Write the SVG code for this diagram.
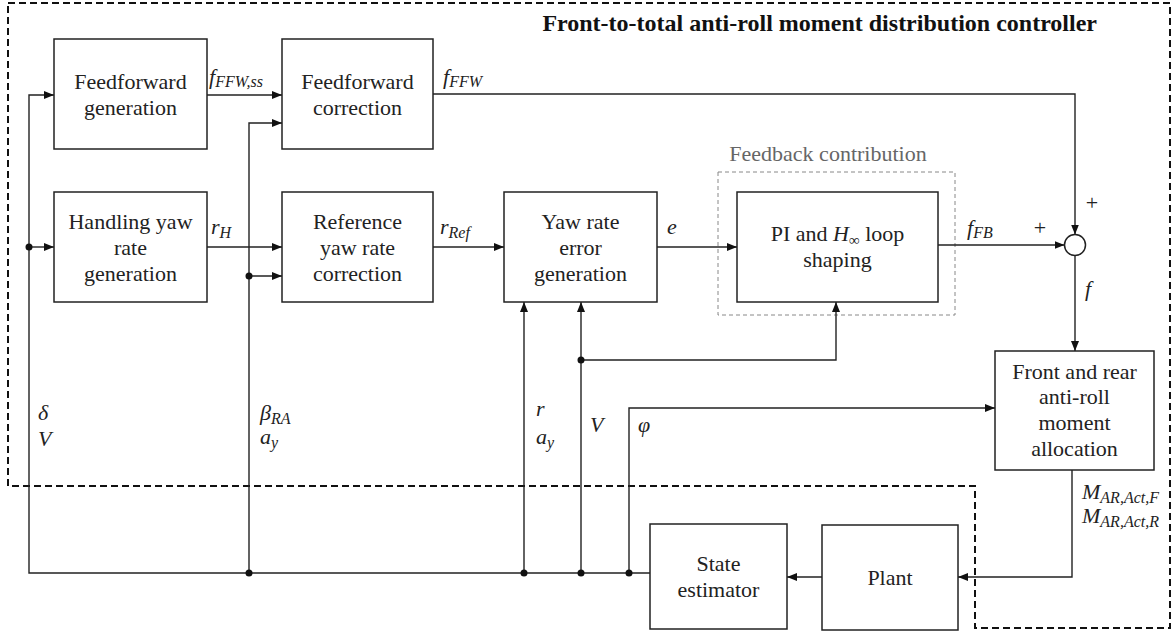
<svg xmlns="http://www.w3.org/2000/svg" width="1172" height="634" viewBox="0 0 1172 634">
<style>
.box{fill:#fff;stroke:#222;stroke-width:1.5}
.t{font-family:"Liberation Serif",serif;font-size:22px;fill:#222;text-anchor:middle}
.m{font-family:"Liberation Serif",serif;font-style:italic;font-size:22px;fill:#222}
.s{font-size:16px}
.c{fill:none;stroke:#222;stroke-width:1.4}
.dot{fill:#111}
</style>
<defs>
<marker id="arr" viewBox="0 0 10 8" refX="10" refY="4" markerWidth="10" markerHeight="8" markerUnits="userSpaceOnUse" orient="auto"><path d="M0,0 L10,4 L0,8 z" fill="#111"/></marker>
</defs>
<rect width="1172" height="634" fill="#fff"/>
<g id="controller-boundary">
<path d="M8,3 H1170 V628 H975 V486 H8 Z" fill="none" stroke="#111" stroke-width="2" stroke-dasharray="7,4"/>
<text x="1097" y="31" font-family="Liberation Serif,serif" font-weight="bold" font-size="24" text-anchor="end" fill="#111">Front-to-total anti-roll moment distribution controller</text>
</g>
<g id="feedback-contribution">
<rect x="718" y="172" width="237" height="143" fill="none" stroke="#888" stroke-width="1" stroke-dasharray="4,3"/>
<text x="828" y="161" class="t" style="fill:#666">Feedback contribution</text>
</g>
<g id="connectors">
<path class="c" d="M650,573 H29 V95 H54" marker-end="url(#arr)"/>
<path class="c" d="M29,247 H54" marker-end="url(#arr)"/>
<path class="c" d="M207,95 H282" marker-end="url(#arr)"/>
<path class="c" d="M249,573 V123 H282" marker-end="url(#arr)"/>
<path class="c" d="M249,276 H282" marker-end="url(#arr)"/>
<path class="c" d="M207,247 H282" marker-end="url(#arr)"/>
<path class="c" d="M433,247 H504" marker-end="url(#arr)"/>
<path class="c" d="M657,247 H737" marker-end="url(#arr)"/>
<path class="c" d="M433,94 H1075 V234.5" marker-end="url(#arr)"/>
<path class="c" d="M938,245 H1064.5" marker-end="url(#arr)"/>
<path class="c" d="M1075,255.5 V351" marker-end="url(#arr)"/>
<path class="c" d="M524,573 V302" marker-end="url(#arr)"/>
<path class="c" d="M581,573 V302" marker-end="url(#arr)"/>
<path class="c" d="M581,360 H836 V302" marker-end="url(#arr)"/>
<path class="c" d="M629,573 V408 H995" marker-end="url(#arr)"/>
<path class="c" d="M1072,470 V577 H958" marker-end="url(#arr)"/>
<path class="c" d="M822,577 H787" marker-end="url(#arr)"/>
<circle class="dot" cx="29" cy="247" r="3.5"/>
<circle class="dot" cx="249" cy="276" r="3.5"/>
<circle class="dot" cx="249" cy="573" r="3.5"/>
<circle class="dot" cx="524" cy="573" r="3.5"/>
<circle class="dot" cx="581" cy="573" r="3.5"/>
<circle class="dot" cx="629" cy="573" r="3.5"/>
<circle class="dot" cx="581" cy="360" r="3.5"/>
<text class="m" x="209" y="84">f<tspan class="s" dy="3">FFW,ss</tspan></text>
<text class="m" x="443" y="84">f<tspan class="s" dy="3">FFW</tspan></text>
<text class="m" x="211" y="234">r<tspan class="s" dy="4">H</tspan></text>
<text class="m" x="440" y="234">r<tspan class="s" dy="4">Ref</tspan></text>
<text class="m" x="667" y="234">e</text>
<text class="m" x="967" y="235">f<tspan class="s" dy="3">FB</tspan></text>
<text class="t" x="1040" y="235">+</text>
<text class="t" x="1092" y="210">+</text>
<text class="m" x="1085" y="296">f</text>
<text class="m" x="1082" y="499">M<tspan class="s" dy="4">AR,Act,F</tspan></text>
<text class="m" x="1082" y="523">M<tspan class="s" dy="4">AR,Act,R</tspan></text>
<text class="m" x="38" y="420">δ</text>
<text class="m" x="38" y="446">V</text>
<text class="m" x="260" y="420">β<tspan class="s" dy="4">RA</tspan></text>
<text class="m" x="260" y="444">a<tspan class="s" dy="4">y</tspan></text>
<text class="m" x="536" y="416">r</text>
<text class="m" x="536" y="444">a<tspan class="s" dy="4">y</tspan></text>
<text class="m" x="590" y="432">V</text>
<text class="m" x="638" y="432">φ</text>
</g>
<g id="ff-gen">
<rect class="box" x="54" y="39" width="153" height="110"/>
<text class="t" x="130.5" y="89">Feedforward</text>
<text class="t" x="130.5" y="115">generation</text>
</g>
<g id="ff-corr">
<rect class="box" x="282" y="39" width="151" height="110"/>
<text class="t" x="357.5" y="89">Feedforward</text>
<text class="t" x="357.5" y="115">correction</text>
</g>
<g id="handling">
<rect class="box" x="54" y="192" width="153" height="110"/>
<text class="t" x="130.5" y="229">Handling yaw</text>
<text class="t" x="130.5" y="255">rate</text>
<text class="t" x="130.5" y="281">generation</text>
</g>
<g id="ref-corr">
<rect class="box" x="282" y="192" width="151" height="110"/>
<text class="t" x="357.5" y="229">Reference</text>
<text class="t" x="357.5" y="255">yaw rate</text>
<text class="t" x="357.5" y="281">correction</text>
</g>
<g id="yaw-err">
<rect class="box" x="504" y="192" width="153" height="110"/>
<text class="t" x="580.5" y="229">Yaw rate</text>
<text class="t" x="580.5" y="255">error</text>
<text class="t" x="580.5" y="281">generation</text>
</g>
<g id="pi-hinf">
<rect class="box" x="737" y="192" width="201" height="110"/>
<text class="t" x="837.5" y="241">PI and <tspan font-style="italic">H</tspan><tspan font-size="15" dy="4">∞</tspan><tspan dy="-4"> loop</tspan></text>
<text class="t" x="837.5" y="267">shaping</text>
</g>
<g id="sum">
<circle cx="1075" cy="245" r="10.5" fill="#fff" stroke="#222" stroke-width="1.5"/>
</g>
<g id="allocation">
<rect class="box" x="995" y="351" width="159" height="119"/>
<text class="t" x="1074.5" y="379">Front and rear</text>
<text class="t" x="1074.5" y="404">anti-roll</text>
<text class="t" x="1074.5" y="430">moment</text>
<text class="t" x="1074.5" y="456">allocation</text>
</g>
<g id="plant">
<rect class="box" x="822" y="525" width="136" height="105"/>
<text class="t" x="890" y="585">Plant</text>
</g>
<g id="estimator">
<rect class="box" x="650" y="524" width="137" height="105"/>
<text class="t" x="718.5" y="571">State</text>
<text class="t" x="718.5" y="597">estimator</text>
</g>
</svg>
